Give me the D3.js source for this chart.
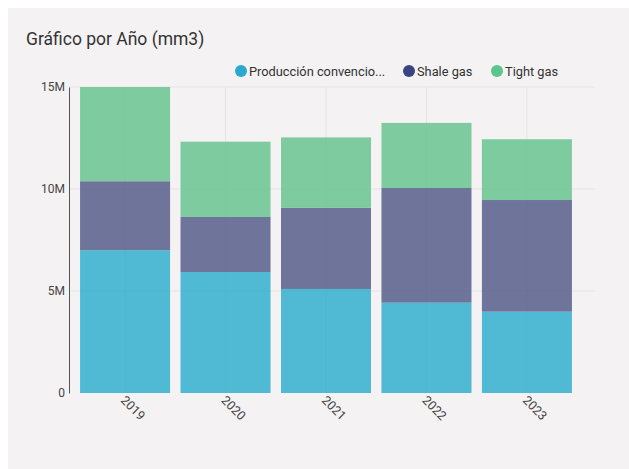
<!DOCTYPE html>
<html>
<head>
<meta charset="utf-8">
<script src="https://cdn.jsdelivr.net/npm/d3@7"></script>
<style>
  html, body { margin: 0; padding: 0; background: #ffffff; }
  svg { display: block; font-family: Roboto, "Liberation Sans", Arial, sans-serif; }
</style>
</head>
<body>
<svg id="chart" width="629" height="469"></svg>
<script>
// Yearly gas production by type (mm3)
const years = ["2019", "2020", "2021", "2022", "2023"];
const seriesNames = ["Producción convencional", "Shale gas", "Tight gas"];
const convencional = [7.00e6, 5.93e6, 5.10e6, 4.43e6, 3.99e6];
const shale = [3.38e6, 2.70e6, 3.98e6, 5.62e6, 5.47e6];
const tight = [4.62e6, 3.69e6, 3.45e6, 3.19e6, 2.98e6];
const yTicks = [0, 5e6, 10e6, 15e6];
const yTickLabels = ["0", "5M", "10M", "15M"];

const barColors = ["#33afcd", "#575e89", "#69c490"];
const dotColors = ["#2aa8d0", "#3b4483", "#5cc58b"];

const svg = d3.select("#chart");
const W = 629, H = 469;
const FONT = "Roboto, 'Liberation Sans', Arial, sans-serif";

// card background
svg.append("rect").attr("x", 8).attr("y", 8).attr("width", W - 8).attr("height", H - 8)
  .attr("fill", "#f5f2f3");

svg.append("text").attr("x", 26).attr("y", 45)
  .attr("font-size", 17.5).attr("fill", "#333")
  .text("Gráfico por Año (mm3)");

const margin = { left: 69, right: 46, top: 87, bottom: 76 };
const x = d3.scaleBand().domain(years)
  .range([margin.left, W - margin.right])
  .paddingInner(0.104).paddingOuter(0.11);
const y = d3.scaleLinear().domain([0, 15e6]).range([H - margin.bottom, margin.top]);

const rows = years.map((yr, i) => ({
  year: yr,
  [seriesNames[0]]: convencional[i],
  [seriesNames[1]]: shale[i],
  [seriesNames[2]]: tight[i]
}));
const stacked = d3.stack().keys(seriesNames)(rows);

// grid
const grid = svg.append("g");
grid.selectAll("line.h").data(yTicks.slice(1)).join("line")
  .attr("x1", margin.left).attr("x2", W - margin.right + 12)
  .attr("y1", d => y(d)).attr("y2", d => y(d))
  .attr("stroke", "#e6e3e5").attr("stroke-width", 1);
grid.selectAll("line.v").data(years).join("line")
  .attr("x1", d => x(d) + x.bandwidth() / 2).attr("x2", d => x(d) + x.bandwidth() / 2)
  .attr("y1", y(15e6)).attr("y2", y(0))
  .attr("stroke", "#e6e3e5").attr("stroke-width", 1);

// bars
svg.append("g").selectAll("g").data(stacked).join("g")
  .attr("fill", (d, i) => barColors[i]).attr("fill-opacity", 0.85)
  .selectAll("rect").data(d => d).join("rect")
  .attr("x", d => x(d.data.year))
  .attr("width", x.bandwidth())
  .attr("y", d => y(d[1]))
  .attr("height", d => y(d[0]) - y(d[1]));

// y axis
const yAxis = d3.axisLeft(y).tickValues(yTicks)
  .tickFormat((d, i) => yTickLabels[i]).tickSize(0).tickPadding(4);
const gy = svg.append("g").attr("transform", `translate(${margin.left},0)`).call(yAxis);
gy.select(".domain").attr("stroke", "#555").attr("stroke-width", 1);
gy.selectAll("text").attr("font-size", 12).attr("fill", "#444").attr("font-family", FONT);

// x axis labels
const xAxis = d3.axisBottom(x).tickSize(0).tickPadding(0);
const gx = svg.append("g").attr("transform", `translate(0,${y(0)})`).call(xAxis);
gx.select(".domain").remove();
gx.selectAll("text")
  .attr("font-size", 12.5).attr("fill", "#444").attr("font-family", FONT)
  .attr("text-anchor", "start")
  .attr("dy", 0)
  .attr("transform", "translate(-5,8) rotate(45)");

// legend
const legendItems = [
  { label: "Producción convencio...", cx: 241 },
  { label: "Shale gas", cx: 409 },
  { label: "Tight gas", cx: 497 }
];
const lg = svg.append("g");
legendItems.forEach((it, i) => {
  lg.append("circle").attr("cx", it.cx).attr("cy", 71).attr("r", 6).attr("fill", dotColors[i]);
  lg.append("text").attr("x", it.cx + 8).attr("y", 75.5)
    .attr("font-size", 12.8).attr("fill", "#333").text(it.label);
});
</script>
</body>
</html>
